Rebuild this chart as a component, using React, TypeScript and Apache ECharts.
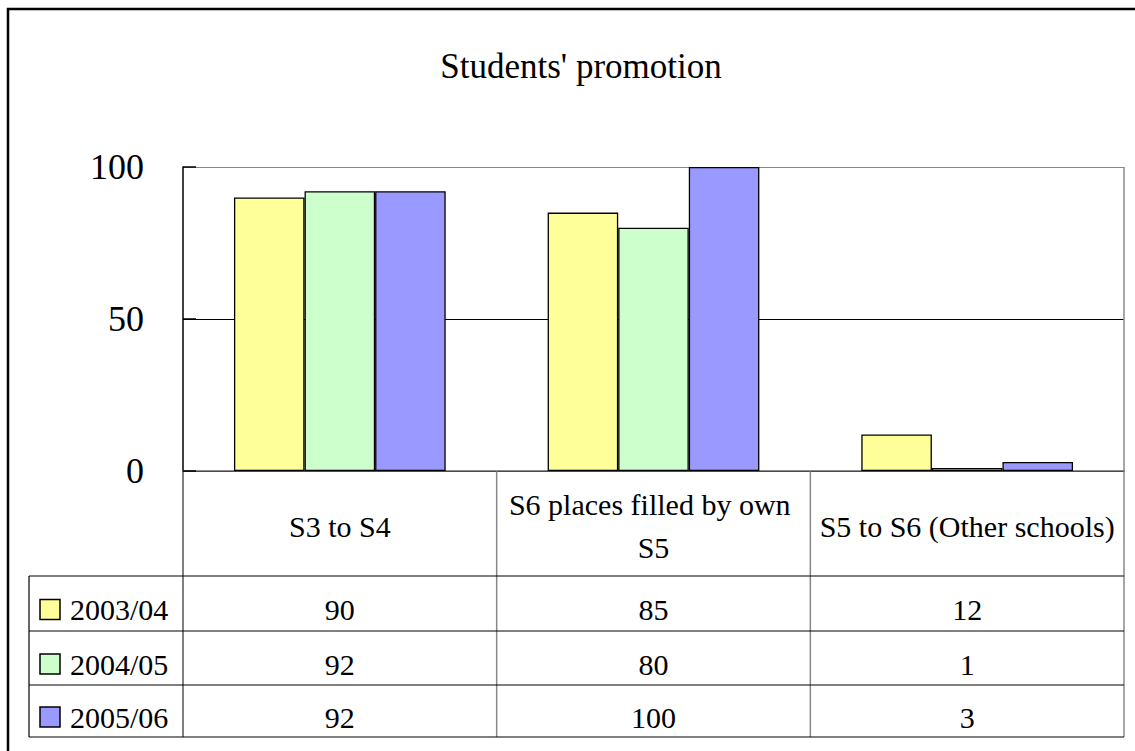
import React, { useEffect, useRef } from "react";
import * as echarts from "echarts";

const chartTitle = "Students' promotion";
const categories = ["S3 to S4", "S6 places filled by own S5", "S5 to S6 (Other schools)"];
const seriesNames = ["2003/04", "2004/05", "2005/06"];
const values2003 = [90, 85, 12];
const values2004 = [92, 80, 1];
const values2005 = [92, 100, 3];
const seriesColors = ["#FFFF99", "#CCFFCC", "#9999FF"];
const yMin = 0;
const yMax = 100;
const yInterval = 50;

const W = 1135;
const H = 751;
const GRID = { left: 183, top: 167, right: 1124, bottom: 471 };
const TABLE_LEFT = 29;
const ROW_LINES = [576, 631, 685, 737];
const FONT = "'Liberation Serif', 'Times New Roman', serif";

export default function App() {
  const ref = useRef<HTMLDivElement>(null);

  useEffect(() => {
    const chart = echarts.init(ref.current!, null, { renderer: "svg", width: W, height: H });
    const seriesData = [values2003, values2004, values2005];

    chart.setOption({
      animation: false,
      backgroundColor: "#ffffff",
      title: {
        text: chartTitle,
        left: 576,
        top: 61,
        textAlign: "center",
        textVerticalAlign: "middle",
        textStyle: { fontFamily: FONT, fontSize: 35, fontWeight: "normal", color: "#000" },
      },
      grid: {
        left: GRID.left,
        top: GRID.top,
        width: GRID.right - GRID.left,
        height: GRID.bottom - GRID.top,
        containLabel: false,
      },
      xAxis: {
        type: "category",
        data: categories,
        axisLine: { show: true, lineStyle: { color: "#666", width: 1.5 } },
        axisTick: { show: false },
        axisLabel: {
          interval: 0,
          fontFamily: FONT,
          fontSize: 30,
          color: "#000",
          width: 305,
          overflow: "break",
          lineHeight: 43,
          margin: 55,
          verticalAlign: "middle",
        },
      },
      yAxis: {
        type: "value",
        min: yMin,
        max: yMax,
        interval: yInterval,
        axisLine: { show: true, lineStyle: { color: "#000", width: 1.5 } },
        axisTick: { show: true, inside: true, length: 13, lineStyle: { color: "#000", width: 1.5 } },
        splitLine: { show: true, lineStyle: { color: ["#000", "#000", "#888"], width: 1 } },
        axisLabel: {
          fontFamily: FONT,
          fontSize: 36,
          color: "#000",
          margin: 39,
          verticalAlign: "middle",
          padding: [8, 0, 0, 0],
        },
      },
      series: seriesData.map((d, i) => ({
        type: "bar",
        name: seriesNames[i],
        data: d,
        barGap: "0%",
        barCategoryGap: "32.5%",
        itemStyle: { color: seriesColors[i], borderColor: "#000", borderWidth: 1.3 },
      })),
    });

    const centers = categories.map((c) => chart.convertToPixel({ xAxisIndex: 0 }, c) as number);
    const band = centers.length > 1 ? centers[1] - centers[0] : GRID.right - GRID.left;
    const bounds = centers.map((c) => c + band / 2).slice(0, -1);

    const elements: any[] = [];
    elements.push({
      type: "rect",
      shape: { x: 8, y: 9, width: W + 50, height: H + 50 },
      style: { fill: "none", stroke: "#000", lineWidth: 2.5 },
      silent: true,
    });
    elements.push({
      type: "line",
      shape: { x1: GRID.right, y1: GRID.top, x2: GRID.right, y2: ROW_LINES[ROW_LINES.length - 1] },
      style: { stroke: "#888", lineWidth: 1.5 },
    });
    elements.push({
      type: "line",
      shape: { x1: GRID.left, y1: GRID.bottom, x2: GRID.left, y2: ROW_LINES[ROW_LINES.length - 1] },
      style: { stroke: "#555", lineWidth: 1.5 },
    });
    bounds.forEach((bx) => {
      elements.push({
        type: "line",
        shape: { x1: bx, y1: GRID.bottom, x2: bx, y2: ROW_LINES[ROW_LINES.length - 1] },
        style: { stroke: "#888", lineWidth: 1.5 },
      });
    });
    ROW_LINES.forEach((ry) => {
      elements.push({
        type: "line",
        shape: { x1: TABLE_LEFT, y1: ry, x2: GRID.right, y2: ry },
        style: { stroke: "#000", lineWidth: 1.2 },
      });
    });
    elements.push({
      type: "line",
      shape: { x1: TABLE_LEFT, y1: ROW_LINES[0], x2: TABLE_LEFT, y2: ROW_LINES[ROW_LINES.length - 1] },
      style: { stroke: "#000", lineWidth: 1.2 },
    });
    seriesNames.forEach((name, r) => {
      const cy = (ROW_LINES[r] + ROW_LINES[r + 1]) / 2 + 6;
      elements.push({
        type: "rect",
        shape: { x: 40, y: cy - 10, width: 20, height: 20 },
        style: { fill: seriesColors[r], stroke: "#000", lineWidth: 1.5 },
      });
      elements.push({
        type: "text",
        x: 70,
        y: cy,
        style: { text: name, fontFamily: FONT, fontSize: 30, fill: "#000", align: "left", verticalAlign: "middle" },
      });
      seriesData[r].forEach((v, c) => {
        elements.push({
          type: "text",
          x: centers[c],
          y: cy,
          style: { text: String(v), fontFamily: FONT, fontSize: 30, fill: "#000", align: "center", verticalAlign: "middle" },
        });
      });
    });

    chart.setOption({ graphic: { elements } });

    return () => chart.dispose();
  }, []);

  return <div ref={ref} style={{ position: "fixed", left: 0, top: 0, width: W, height: H }} />;
}
